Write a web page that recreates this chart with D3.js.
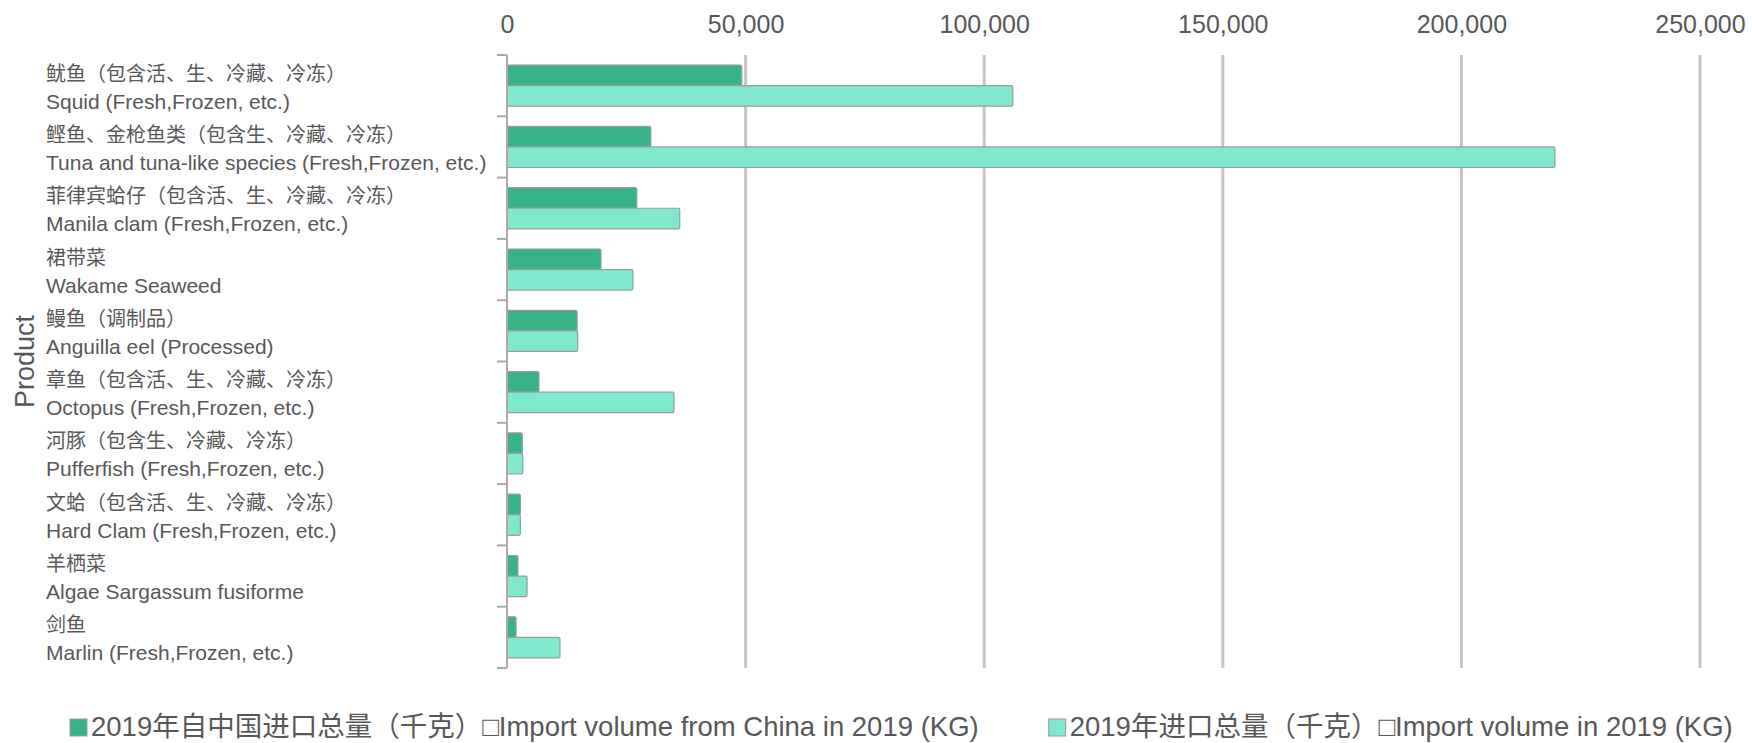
<!DOCTYPE html>
<html>
<head>
<meta charset="utf-8">
<script src="https://cdn.jsdelivr.net/npm/d3@7"></script>
<style>
  body { margin: 0; background: #fff; }
  text { font-family: "Liberation Sans", Arial, "Noto Sans CJK SC", sans-serif; }
</style>
</head>
<body>
<svg id="chart"></svg>
<script>
// Data
const productsZh = [
  "鱿鱼（包含活、生、冷藏、冷冻）",
  "鲣鱼、金枪鱼类（包含生、冷藏、冷冻）",
  "菲律宾蛤仔（包含活、生、冷藏、冷冻）",
  "裙带菜",
  "鳗鱼（调制品）",
  "章鱼（包含活、生、冷藏、冷冻）",
  "河豚（包含生、冷藏、冷冻）",
  "文蛤（包含活、生、冷藏、冷冻）",
  "羊栖菜",
  "剑鱼"
];
const productsEn = [
  "Squid (Fresh,Frozen, etc.)",
  "Tuna and tuna-like species (Fresh,Frozen, etc.)",
  "Manila clam (Fresh,Frozen, etc.)",
  "Wakame Seaweed",
  "Anguilla eel (Processed)",
  "Octopus (Fresh,Frozen, etc.)",
  "Pufferfish (Fresh,Frozen, etc.)",
  "Hard Clam (Fresh,Frozen, etc.)",
  "Algae Sargassum fusiforme",
  "Marlin (Fresh,Frozen, etc.)"
];
const fromChina = [49200, 30150, 27200, 19700, 14700, 6700, 3200, 2800, 2300, 1900];
const totalImport = [106000, 219600, 36200, 26400, 14800, 35000, 3300, 2800, 4200, 11100];
const xTicks = [0, 50000, 100000, 150000, 200000, 250000];
const seriesNames = [
  "2019年自中国进口总量（千克）□Import volume from China in 2019 (KG)",
  "2019年进口总量（千克）□Import volume in 2019 (KG)"
];

// Constants
const width = 1752;
const height = 743;
const plot = {left: 507, right: 1700, top: 55, bottom: 668};
const colors = ["#37b387", "#80e8cc"];
const textColor = "#585858";

const svg = d3.select("#chart")
  .attr("width", width)
  .attr("height", height);

// scales
const xScale = d3.scaleLinear()
  .domain([0, 250000])
  .range([plot.left, plot.right]);

const yScale = d3.scaleBand()
  .domain(d3.range(productsEn.length))
  .range([plot.top, plot.bottom])
  .paddingInner(0.33)
  .paddingOuter(0.165);

const subScale = d3.scaleBand()
  .domain([0, 1])
  .range([0, yScale.bandwidth()]);

// gridlines
svg.append("g")
  .selectAll("line")
  .data(xTicks.slice(1))
  .join("line")
  .attr("x1", d => xScale(d))
  .attr("x2", d => xScale(d))
  .attr("y1", plot.top)
  .attr("y2", plot.bottom)
  .attr("stroke", "#c6c6c6")
  .attr("stroke-width", 3);

// x-axis on top
const xAxis = svg.append("g")
  .attr("transform", `translate(0, ${plot.top})`)
  .call(d3.axisTop(xScale).tickValues(xTicks).tickFormat(d3.format(",")).tickSize(0).tickPadding(22));
xAxis.select(".domain").remove();
xAxis.selectAll("text")
  .attr("font-size", "25px")
  .attr("fill", textColor)
  .style("font-family", "'Liberation Sans', Arial, sans-serif");

// bars
const rows = d3.range(productsEn.length).map(i => ({i: i, vals: [fromChina[i], totalImport[i]]}));
const barGroup = svg.append("g");
barGroup.selectAll("g")
  .data(rows)
  .join("g")
  .attr("transform", d => `translate(0, ${yScale(d.i)})`)
  .selectAll("rect")
  .data(d => d.vals.map((v, k) => ({k: k, v: v})))
  .join("rect")
  .attr("x", xScale(0))
  .attr("y", d => subScale(d.k))
  .attr("width", d => xScale(d.v) - xScale(0))
  .attr("height", subScale.bandwidth())
  .attr("rx", 1.5)
  .attr("fill", d => colors[d.k])
  .attr("stroke", "#9c9c9c")
  .attr("stroke-width", 1.2);

// y-axis line and ticks at band edges
const step = yScale.step();
const edges = d3.range(productsEn.length + 1).map(i => plot.top + i * step);
svg.append("line")
  .attr("x1", plot.left)
  .attr("x2", plot.left)
  .attr("y1", plot.top)
  .attr("y2", plot.bottom)
  .attr("stroke", "#aaaaaa")
  .attr("stroke-width", 2);
svg.append("g")
  .selectAll("line")
  .data(edges)
  .join("line")
  .attr("x1", plot.left - 10)
  .attr("x2", plot.left)
  .attr("y1", d => d)
  .attr("y2", d => d)
  .attr("stroke", "#aaaaaa")
  .attr("stroke-width", 2);

// category labels (two lines)
const labels = svg.append("g");
d3.range(productsEn.length).forEach(i => {
  const cy = yScale(i) + yScale.bandwidth() / 2;
  labels.append("text")
    .attr("x", 46)
    .attr("y", cy - 5)
    .attr("font-size", "20px")
    .attr("fill", textColor)
    .text(productsZh[i]);
  labels.append("text")
    .attr("x", 46)
    .attr("y", cy + 23)
    .attr("font-size", "21px")
    .attr("fill", textColor)
    .text(productsEn[i]);
});

// y-axis title
svg.append("text")
  .attr("transform", `translate(34, ${(plot.top + plot.bottom) / 2}) rotate(-90)`)
  .attr("text-anchor", "middle")
  .attr("font-size", "27px")
  .attr("fill", textColor)
  .text("Product");

// legend
const legend = svg.append("g").attr("transform", "translate(70, 727)");
let lx = 0;
seriesNames.forEach((name, k) => {
  legend.append("rect")
    .attr("x", lx)
    .attr("y", -8)
    .attr("width", 17)
    .attr("height", 17)
    .attr("fill", colors[k])
    .attr("stroke", "#9c9c9c")
    .attr("stroke-width", 1);
  const t = legend.append("text")
    .attr("x", lx + 21)
    .attr("y", 9)
    .attr("font-size", "27.5px")
    .attr("fill", textColor)
    .text(name);
  lx += 21 + t.node().getComputedTextLength() + 70;
});
</script>
</body>
</html>
